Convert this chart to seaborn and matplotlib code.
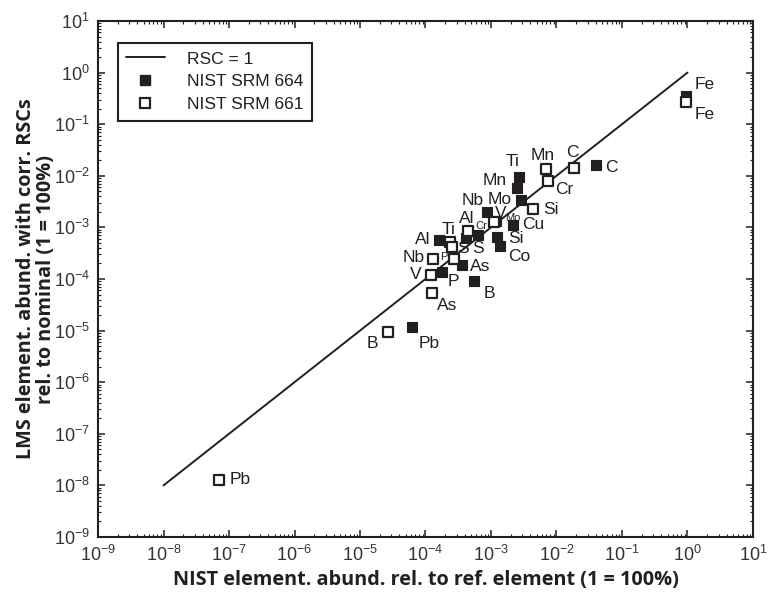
import matplotlib
matplotlib.use("Agg")
import matplotlib.pyplot as plt
from matplotlib.lines import Line2D
from matplotlib.ticker import LogLocator, NullFormatter
import seaborn as sns
import pandas as pd
import numpy as np

# ---------------- data ----------------
# NIST SRM 664 (filled squares)
el_664 = ["Fe", "C", "Ti", "Mn", "Mo", "Nb", "V", "Cu", "Si", "Co", "Cr", "S",
          "Al", "As", "P", "B", "Pb"]
x_664 = [0.95, 0.040, 0.00267, 0.00247, 0.00287, 0.00088, 0.00118, 0.00214,
         0.00125, 0.00137, 0.000634, 0.000415, 0.000161, 0.000365, 0.000177,
         0.000556, 6.28e-5]
y_664 = [0.358, 0.0165, 0.0096, 0.0059, 0.00346, 0.00196, 0.00135, 0.00112,
         0.000643, 0.000444, 0.000725, 0.000634, 0.00058, 0.00019, 0.000139,
         9.3e-5, 1.16e-5]

# NIST SRM 661 (open squares)
el_661 = ["Fe", "C", "Mn", "Cr", "Si", "Mo", "Al", "Ti", "S", "Nb", "P", "V",
          "As", "B", "Pb"]
x_661 = [0.95, 0.0185, 0.00684, 0.0075, 0.00443, 0.00111, 0.00044, 0.000237,
         0.000254, 0.00013, 0.000272, 0.000121, 0.000124, 2.70e-5, 7.03e-8]
y_661 = [0.268, 0.0142, 0.0136, 0.00782, 0.00228, 0.00129, 0.00084, 0.000514,
         0.000425, 0.000245, 0.000245, 0.00012, 5.28e-5, 9.57e-6, 1.28e-8]

# RSC = 1 line
x_rsc = [1e-8, 1.0]
y_rsc = [1e-8, 1.0]

# label placement (pixel offsets, horizontal alignment, small font flag)
lab_664 = [(9, 11, "left", 0), (9, -2.5, "left", 0), (-6, 15, "center", 0),
           (-10, 7, "right", 0), (-9, 0, "right", 0), (-4, 12, "right", 0),
           (5, 7, "center", 0), (9, 0, "left", 0), (11, -1, "left", 0),
           (8, -11, "left", 0), (3, 9, "center", 1), (12, -11, "center", 0),
           (-9, 0, "right", 0), (8, -2, "left", 0), (6, -10, "left", 0),
           (9, -13, "left", 0), (6, -16, "left", 0)]
lab_661 = [(9, -12.5, "left", 0), (-2, 15, "center", 0), (-3, 13, "center", 0),
           (7, -8, "left", 0), (10, -1, "left", 0), (19, 4, "center", 1),
           (-1, 12.7, "center", 0), (-1, 12.7, "center", 0), (11, -2, "center", 0),
           (-8, 1, "right", 0), (-10.5, 2, "center", 1), (-9, 0, "right", 0),
           (5, -12, "left", 0), (-10, -11.5, "right", 0), (11, 0, "left", 0)]

# ---------------- style ----------------
sns.set_theme(style="ticks")
plt.rcParams["font.family"] = ["Liberation Sans", "DejaVu Sans"]
plt.rcParams["mathtext.fontset"] = "custom"
plt.rcParams["mathtext.rm"] = "Liberation Sans"
plt.rcParams["mathtext.it"] = "Liberation Sans"
plt.rcParams["mathtext.bf"] = "Liberation Sans:bold"

INK = "#231f20"

fig = plt.figure(figsize=(7.69, 5.95), dpi=100)
ax = fig.add_axes([98 / 769, 1 - 537 / 595, 655 / 769, 516 / 595])

df_line = pd.DataFrame({"x": x_rsc, "y": y_rsc})
df_664 = pd.DataFrame({"x": x_664, "y": y_664, "el": el_664})
df_661 = pd.DataFrame({"x": x_661, "y": y_661, "el": el_661})

sns.lineplot(data=df_line, x="x", y="y", ax=ax, color=INK, lw=1.4, zorder=2)
sns.scatterplot(data=df_664, x="x", y="y", ax=ax, marker="s", s=62,
                color=INK, edgecolor=INK, linewidth=0.8, zorder=3)
sns.scatterplot(data=df_661, x="x", y="y", ax=ax, marker="s", s=50,
                facecolor="white", edgecolor=INK, linewidth=1.6, zorder=4)

ax.set_xscale("log")
ax.set_yscale("log")
ax.set_xlim(1e-9, 10)
ax.set_ylim(1e-9, 10)

for df, labs in ((df_664, lab_664), (df_661, lab_661)):
    for (xv, yv, el), (dx, dy, ha, small) in zip(df[["x", "y", "el"]].values, labs):
        ax.annotate(el, (xv, yv), xytext=(dx, dy), textcoords="offset pixels",
                    ha=ha, va="center", fontsize=8 if small else 12.5,
                    color=INK, zorder=5)

ax.xaxis.set_major_locator(LogLocator(base=10, numticks=20))
ax.yaxis.set_major_locator(LogLocator(base=10, numticks=20))
ax.xaxis.set_minor_locator(LogLocator(base=10, subs=np.arange(2, 10), numticks=20))
ax.yaxis.set_minor_locator(LogLocator(base=10, subs=np.arange(2, 10), numticks=20))
ax.xaxis.set_minor_formatter(NullFormatter())
ax.yaxis.set_minor_formatter(NullFormatter())
ax.tick_params(which="both", direction="in", top=True, right=True, color=INK,
               labelcolor="#333333", labelsize=13)
ax.tick_params(which="major", length=5, width=1.1, pad=6)
ax.tick_params(which="minor", length=2.5, width=0.8)
for sp in ax.spines.values():
    sp.set_linewidth(1.5)
    sp.set_color(INK)
    sp.set_visible(True)

lab_font = dict(family=["Open Sans", "DejaVu Sans"], weight="bold", size=14.3, color=INK)
ax.set_xlabel("NIST element. abund. rel. to ref. element (1 = 100%)", labelpad=3, **lab_font)
ax.set_ylabel("LMS element. abund. with corr. RSCs\nrel. to nominal (1 = 100%)",
              labelpad=-2, linespacing=1.0, **lab_font)

handles = [
    Line2D([0], [0], color=INK, lw=1.4),
    Line2D([0], [0], marker="s", ls="none", color=INK, markersize=7.5),
    Line2D([0], [0], marker="s", ls="none", markerfacecolor="white",
           markeredgecolor=INK, markeredgewidth=1.6, markersize=7),
]
leg = ax.legend(handles, ["RSC = 1", "NIST SRM 664", "NIST SRM 661"],
                loc="upper left", bbox_to_anchor=(0.03, 0.958), fontsize=12.5,
                frameon=True, fancybox=False, framealpha=1, edgecolor=INK,
                handlelength=2.2, handletextpad=1.3, borderpad=0.5,
                labelspacing=0.45, borderaxespad=0)
leg.get_frame().set_linewidth(1.5)
for t in leg.get_texts():
    t.set_color(INK)

fig.savefig("out.png", dpi=100)
